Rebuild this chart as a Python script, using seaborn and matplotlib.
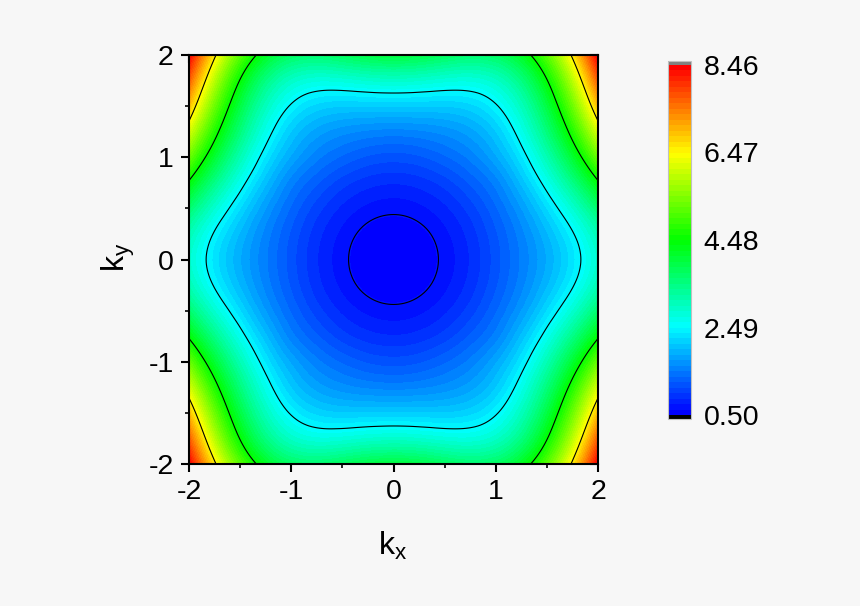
import numpy as np
import matplotlib
matplotlib.use('Agg')
import matplotlib.pyplot as plt
import matplotlib.tri as mtri
from matplotlib.cm import ScalarMappable
from matplotlib.colors import BoundaryNorm
from matplotlib.ticker import MultipleLocator
import seaborn as sns

# values, one quadrant (k >= 0), step 0.2
k_pos = [0.0, 0.2, 0.4, 0.6, 0.8, 1.0, 1.2, 1.4, 1.6, 1.8, 2.0]
row_00 = [0.500, 0.527, 0.609, 0.745, 0.935, 1.180, 1.446, 1.724, 2.040, 2.418, 2.900]
row_02 = [0.527, 0.554, 0.636, 0.772, 0.962, 1.207, 1.476, 1.774, 2.112, 2.516, 3.024]
row_04 = [0.609, 0.636, 0.718, 0.854, 1.044, 1.289, 1.575, 1.920, 2.321, 2.797, 3.379]
row_06 = [0.745, 0.772, 0.854, 0.990, 1.180, 1.420, 1.746, 2.152, 2.641, 3.223, 3.919]
row_08 = [0.935, 0.962, 1.044, 1.180, 1.365, 1.600, 1.970, 2.443, 3.033, 3.741, 4.575]
row_10 = [1.180, 1.207, 1.289, 1.410, 1.580, 1.840, 2.217, 2.756, 3.449, 4.291, 5.276]
row_12 = [1.477, 1.497, 1.553, 1.644, 1.794, 2.053, 2.466, 3.063, 3.854, 4.827, 5.965]
row_14 = [1.878, 1.883, 1.900, 1.946, 2.061, 2.302, 2.725, 3.367, 4.241, 5.331, 6.612]
row_16 = [2.405, 2.392, 2.364, 2.353, 2.416, 2.621, 3.035, 3.701, 4.635, 5.819, 7.222]
row_18 = [3.097, 3.067, 2.992, 2.918, 2.917, 3.072, 3.457, 4.124, 5.088, 6.331, 7.823]
row_20 = [3.989, 3.942, 3.824, 3.689, 3.623, 3.719, 4.059, 4.699, 5.653, 6.907, 8.434]

line_levels = [0.632, 2.49, 4.48, 6.47]
cbar_ticks = [0.50, 2.49, 4.48, 6.47, 8.46]
axis_ticks = [-2, -1, 0, 1, 2]

sns.set_theme(style='ticks', rc={'figure.facecolor': '#f7f7f7',
                                 'axes.unicode_minus': False,
                                 'axes.linewidth': 1.5,
                                 'axes.edgecolor': 'black',
                                 'text.color': 'black',
                                 'xtick.color': 'black',
                                 'ytick.color': 'black',
                                 'mathtext.fontset': 'custom',
                                 'mathtext.rm': 'Liberation Sans'})
plt.rcParams['font.family'] = ['Liberation Sans', 'DejaVu Sans']

# mirror the quadrant into the full square
quad = np.array([row_00, row_02, row_04, row_06, row_08, row_10,
                 row_12, row_14, row_16, row_18, row_20])
full = np.concatenate([quad[:0:-1], quad], axis=0)
full = np.concatenate([full[:, :0:-1], full], axis=1)
k_full = np.concatenate([-np.array(k_pos[:0:-1]), k_pos])
X, Y = np.meshgrid(k_full, k_full)

# smooth drawing of the table
tri = mtri.Triangulation(X.ravel(), Y.ravel())
tri_f, z_f = mtri.UniformTriRefiner(tri).refine_field(full.ravel(), subdiv=3)
z_f = np.clip(z_f, 0.51, 8.45)

cmap = sns.blend_palette(['#0000ff', '#00ffff', '#00ff00', '#ffff00', '#ff0000'],
                         n_colors=64, as_cmap=True).resampled(64)
cmap.set_under('black')
cmap.set_over('#808080')
bands = np.linspace(0.5, 8.46, 65)
norm = BoundaryNorm(bands, 64)

fig = plt.figure(figsize=(8.6, 6.06), dpi=100)
ax = fig.add_axes([189 / 860, 1 - 464 / 606, 409 / 860, 409 / 606])
ax.tricontourf(tri_f, z_f, levels=bands, cmap=cmap, norm=norm)
ax.tricontour(tri_f, z_f, levels=line_levels, colors='black', linewidths=0.8)

ax.set_xlim(-2, 2)
ax.set_ylim(-2, 2)
ax.set_xticks(axis_ticks)
ax.set_yticks(axis_ticks)
ax.xaxis.set_minor_locator(MultipleLocator(0.5))
ax.yaxis.set_minor_locator(MultipleLocator(0.5))
ax.tick_params(which='major', length=6, width=1.5, labelsize=20.5, pad=5)
ax.tick_params(which='minor', length=3, width=1.2)

# top and right ticks point inwards
top = ax.secondary_xaxis('top')
right = ax.secondary_yaxis('right')
for sec in (top, right):
    sec.set_ticks(axis_ticks)
    sec.tick_params(which='major', direction='in', length=6, width=1.5,
                    labeltop=False, labelright=False)
    sec.tick_params(which='minor', direction='in', length=3, width=1.2)
    for sp in sec.spines.values():
        sp.set_visible(False)
top.xaxis.set_minor_locator(MultipleLocator(0.5))
right.yaxis.set_minor_locator(MultipleLocator(0.5))

fig.text(393 / 860, 1 - 546 / 606, r'$\mathrm{k_x}$', fontsize=23, ha='center', va='center')
fig.text(118 / 860, 1 - 257 / 606, r'$\mathrm{k_y}$', fontsize=23, ha='center', va='center',
         rotation=90)

cax = fig.add_axes([668 / 860, 1 - 419 / 606, 23 / 860, 358 / 606])
cb = fig.colorbar(ScalarMappable(norm=norm, cmap=cmap), cax=cax, extend='both',
                  extendfrac=4 / 350, extendrect=True, spacing='proportional')
cb.set_ticks(cbar_ticks)
cb.set_ticklabels([f'{v:.2f}' for v in cbar_ticks])
cb.ax.tick_params(length=0, labelsize=20.5, pad=9)
cb.ax.minorticks_off()
cb.outline.set_edgecolor('#c0c0c0')
cb.outline.set_linewidth(0.8)

fig.savefig('out.png', dpi=100, facecolor=fig.get_facecolor())
